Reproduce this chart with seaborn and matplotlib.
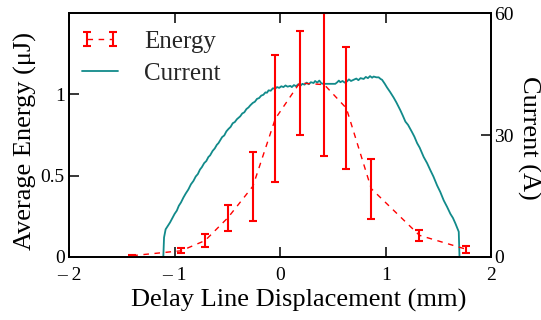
import matplotlib
matplotlib.use("Agg")
import matplotlib.pyplot as plt
from matplotlib.container import ErrorbarContainer
from matplotlib.legend_handler import HandlerErrorbar
import seaborn as sns
import numpy as np
import pandas as pd

# ---------------- data ----------------
energy_x = [-1.40, -0.938, -0.711, -0.496, -0.259, -0.047, 0.183, 0.417, 0.626, 0.862, 1.318, 1.763]
energy_y = [0.008, 0.038, 0.101, 0.241, 0.435, 0.85, 1.07, 1.06, 0.915, 0.42, 0.133, 0.047]
energy_err = [0.004, 0.015, 0.038, 0.079, 0.212, 0.39, 0.32, 0.44, 0.374, 0.185, 0.033, 0.02]

current_x = [-1.23, -1.107, -1.100, -1.085, -1.065, -1.043, -1.02, -1.00, -0.979, -0.96,
             -0.94, -0.917, -0.895, -0.87, -0.845, -0.822, -0.80, -0.78, -0.76, -0.742,
             -0.72, -0.70, -0.68, -0.664, -0.64, -0.62, -0.60, -0.585, -0.569, -0.55,
             -0.53, -0.51, -0.49, -0.47, -0.45, -0.43, -0.41, -0.379, -0.36, -0.34,
             -0.32, -0.30, -0.284, -0.26, -0.24, -0.22, -0.20, -0.18, -0.16, -0.14,
             -0.126, -0.11, -0.09, -0.07, -0.05, -0.03, -0.01, 0.01, 0.03, 0.05,
             0.07, 0.095, 0.11, 0.13, 0.15, 0.17, 0.19, 0.21, 0.23, 0.25,
             0.27, 0.29, 0.316, 0.33, 0.35, 0.37, 0.39, 0.41, 0.45, 0.49,
             0.521, 0.54, 0.555, 0.569, 0.59, 0.61, 0.632, 0.65, 0.67, 0.695,
             0.72, 0.74, 0.76, 0.79, 0.81, 0.83, 0.85, 0.87, 0.884, 0.91,
             0.932, 0.95, 0.964, 0.99, 1.011, 1.04, 1.074, 1.10, 1.137, 1.16,
             1.185, 1.21, 1.248, 1.27, 1.296, 1.32, 1.358, 1.39, 1.422, 1.45,
             1.485, 1.515, 1.548, 1.58, 1.611, 1.635, 1.659, 1.69, 1.697, 1.785]
current_a = [0.0, 0.0, 4.8, 6.8, 7.6, 8.5, 9.6, 10.6, 11.4, 12.6,
             13.4, 14.6, 15.6, 16.6, 17.9, 18.7, 19.8, 20.4, 21.5, 22.1,
             23.1, 23.6, 24.6, 25.0, 26.1, 26.7, 27.6, 28.0, 28.7, 29.5,
             29.9, 30.9, 31.5, 32.0, 32.9, 33.2, 33.9, 34.6, 35.3, 35.6,
             36.4, 36.8, 37.3, 37.9, 38.2, 38.9, 39.1, 39.7, 39.9, 40.5,
             40.4, 41.0, 40.9, 41.5, 41.4, 41.8, 41.6, 42.0, 41.8, 42.2,
             41.9, 42.1, 41.8, 42.3, 42.0, 42.5, 42.1, 42.6, 42.4, 42.9,
             42.5, 43.0, 42.8, 43.3, 42.9, 43.4, 42.7, 42.6, 42.6, 42.6,
             42.6, 43.0, 43.4, 43.0, 43.3, 42.9, 43.2, 43.7, 43.3, 43.6,
             43.9, 43.5, 44.0, 43.8, 44.3, 44.0, 44.5, 44.1, 44.4, 44.2,
             44.2, 43.8, 43.6, 42.6, 41.7, 40.6, 39.2, 38.0, 36.1, 34.8,
             33.3, 32.5, 30.7, 29.6, 28.0, 26.9, 24.6, 23.1, 21.3, 19.8,
             17.6, 16.0, 13.9, 12.3, 10.6, 9.6, 8.2, 6.2, 0.0, 0.0]

x_ticks = [-2, -1, 0, 1, 2]
x_tick_labels = ["\u2013 2", "\u2013 1", "0", "1", "2"]
y_ticks = [0, 0.5, 1]
y_tick_labels = ["0", "0.5", "1"]
y2_ticks = [0, 30, 60]
y2_tick_labels = ["0", "30", "60"]

# ---------------- style ----------------
sns.set_theme(style="ticks")
plt.rcParams["font.family"] = ["Liberation Serif", "DejaVu Serif"]

RED = "#ff0000"
TEAL = "#118a8a"

fig, ax = plt.subplots(figsize=(5.41, 3.2), dpi=100)
fig.subplots_adjust(left=0.1275, right=0.9085, bottom=0.197, top=0.959)
ax2 = ax.twinx()

cur_df = pd.DataFrame({"x": current_x, "I": current_a})
sns.lineplot(data=cur_df, x="x", y="I", ax=ax2, color=TEAL, lw=1.3,
             sort=False, estimator=None, legend=False)
cur_line = ax2.get_lines()[0]

eb = ax.errorbar(energy_x, energy_y, yerr=energy_err, color=RED,
                 ls=(0, (4, 4)), lw=1.0, elinewidth=1.5, capsize=3.2,
                 capthick=1.5, ecolor=RED)

ax.set_zorder(ax2.get_zorder() + 1)
ax.patch.set_visible(False)

ax.set_xlim(-2, 2)
ax.set_ylim(0, 1.5)
ax2.set_ylim(0, 60)

ax.set_xticks(x_ticks)
ax.set_xticklabels(x_tick_labels)
ax.set_yticks(y_ticks)
ax.set_yticklabels(y_tick_labels)
ax2.set_yticks(y2_ticks)
ax2.set_yticklabels(y2_tick_labels)

ax.tick_params(axis="x", direction="in", length=7, width=1.1, top=True,
               bottom=True, labelsize=14, pad=7, colors="black")
ax.tick_params(axis="y", direction="in", length=7, width=1.1, left=True,
               right=False, labelsize=14, pad=3, colors="black")
ax2.tick_params(axis="y", direction="in", length=7, width=1.1, right=True,
                left=False, labelsize=14, pad=2, colors="black")

for a in (ax, ax2):
    for s in a.spines.values():
        s.set_color("black")
        s.set_linewidth(1.3)

ax.set_xlabel("Delay Line Displacement (mm)", fontsize=19, color="black")
ax.set_ylabel("Average Energy (\u03bcJ)", fontsize=19, color="black")
ax2.set_ylabel("Current (A)", fontsize=19, color="black", rotation=270)
ax.xaxis.set_label_coords(0.544, -0.13)
ax.yaxis.set_label_coords(-0.076, 0.475)
ax2.yaxis.label.set_verticalalignment("bottom")
ax2.yaxis.set_label_coords(1.06, 0.49)

leg = ax.legend([eb, cur_line], ["Energy", "Current"], loc="upper left",
                bbox_to_anchor=(0.012, 0.93), frameon=False, fontsize=18,
                numpoints=2, handlelength=2.05, handletextpad=0.76,
                labelspacing=0.38, borderaxespad=0, borderpad=0,
                handler_map={ErrorbarContainer: HandlerErrorbar(
                    numpoints=2, marker_pad=0.5, xerr_size=0.17, yerr_size=0.28)})

fig.savefig("out.png", dpi=100)
